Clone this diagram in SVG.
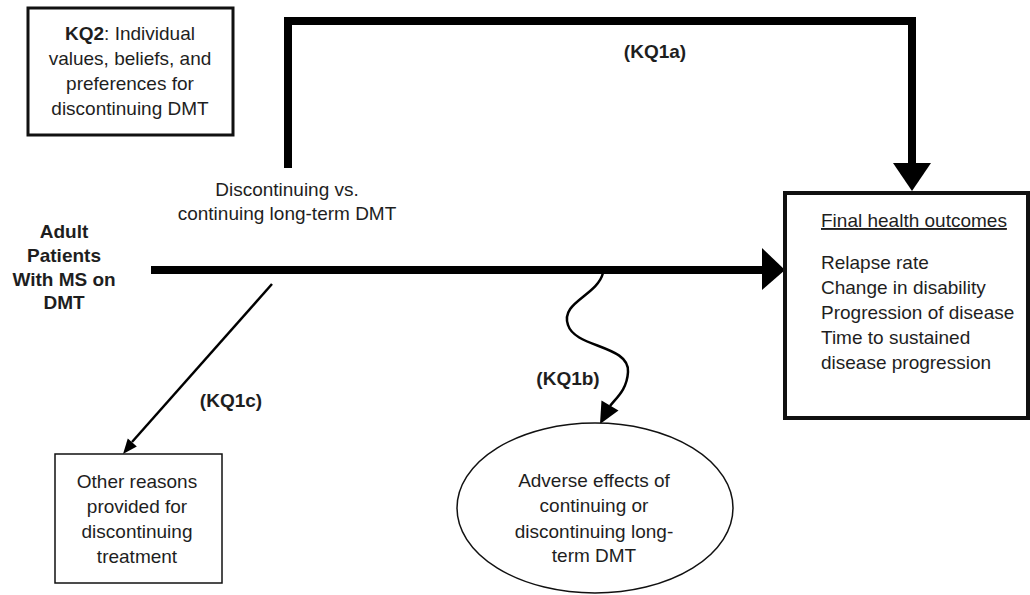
<svg xmlns="http://www.w3.org/2000/svg" width="1030" height="595" viewBox="0 0 1030 595">
<style>
text{font-family:"Liberation Sans",Arial,sans-serif;font-size:19px;fill:#1e1e1e}
.c{text-anchor:middle}
.b{font-weight:bold}
.box{fill:#fff;stroke:#111}
.thick{fill:none;stroke:#000;stroke-width:8;stroke-linejoin:miter}
.thin{fill:none;stroke:#000;stroke-width:2.5}
.head{fill:#000;stroke:none}
</style>
<rect width="1030" height="595" fill="#fff"/>
<g id="connectors">
  <polyline class="thick" points="288,168 288,21 912,21 912,165"/>
  <polygon class="head" points="893,163 931,163 912,191"/>
  <line class="thick" x1="151" y1="270" x2="763" y2="270"/>
  <polygon class="head" points="762,248 762,290 785,270"/>
  <line class="thin" x1="272" y1="284" x2="132" y2="442"/>
  <polygon class="head" points="136.8,446.5 127.8,438.5 123,454"/>
  <path class="thin" stroke-width="3" d="M603,273 C597,296 560,302 568,325 C575,348 630,345 628,372 C627,390 616,398 610,406"/>
  <polygon class="head" points="618.5,410.5 601.5,400.5 600,424"/>
  <text class="c b" x="655" y="58">(KQ1a)</text>
  <text class="c b" x="568" y="385">(KQ1b)</text>
  <text class="c b" x="231" y="407">(KQ1c)</text>
  <text class="c" x="287" y="196">Discontinuing vs.</text>
  <text class="c" x="287" y="220">continuing long-term DMT</text>
</g>
<g id="kq2">
  <rect class="box" x="28" y="8" width="205" height="127" stroke-width="3"/>
  <text class="c" x="130" y="40"><tspan class="b">KQ2</tspan>: Individual</text>
  <text class="c" x="130" y="65">values, beliefs, and</text>
  <text class="c" x="130" y="90">preferences for</text>
  <text class="c" x="130" y="115">discontinuing DMT</text>
</g>
<g id="patients">
  <text class="c b" x="64" y="238">Adult</text>
  <text class="c b" x="64" y="262">Patients</text>
  <text class="c b" x="64" y="286">With MS on</text>
  <text class="c b" x="64" y="309">DMT</text>
</g>
<g id="outcomes">
  <rect class="box" x="785" y="193" width="243" height="225" stroke-width="4"/>
  <text x="821" y="227" text-decoration="underline">Final health outcomes</text>
  <text x="821" y="269">Relapse rate</text>
  <text x="821" y="294">Change in disability</text>
  <text x="821" y="319">Progression of disease</text>
  <text x="821" y="344">Time to sustained</text>
  <text x="821" y="369">disease progression</text>
</g>
<g id="other-reasons">
  <rect class="box" x="55" y="454" width="167" height="129" stroke-width="1.5"/>
  <text class="c" x="137" y="488">Other reasons</text>
  <text class="c" x="137" y="513">provided for</text>
  <text class="c" x="137" y="538">discontinuing</text>
  <text class="c" x="137" y="563">treatment</text>
</g>
<g id="adverse-effects">
  <ellipse class="box" cx="595" cy="508" rx="138" ry="85" stroke-width="1.5"/>
  <text class="c" x="594" y="487">Adverse effects of</text>
  <text class="c" x="594" y="512">continuing or</text>
  <text class="c" x="594" y="538">discontinuing long-</text>
  <text class="c" x="594" y="562">term DMT</text>
</g>
</svg>
